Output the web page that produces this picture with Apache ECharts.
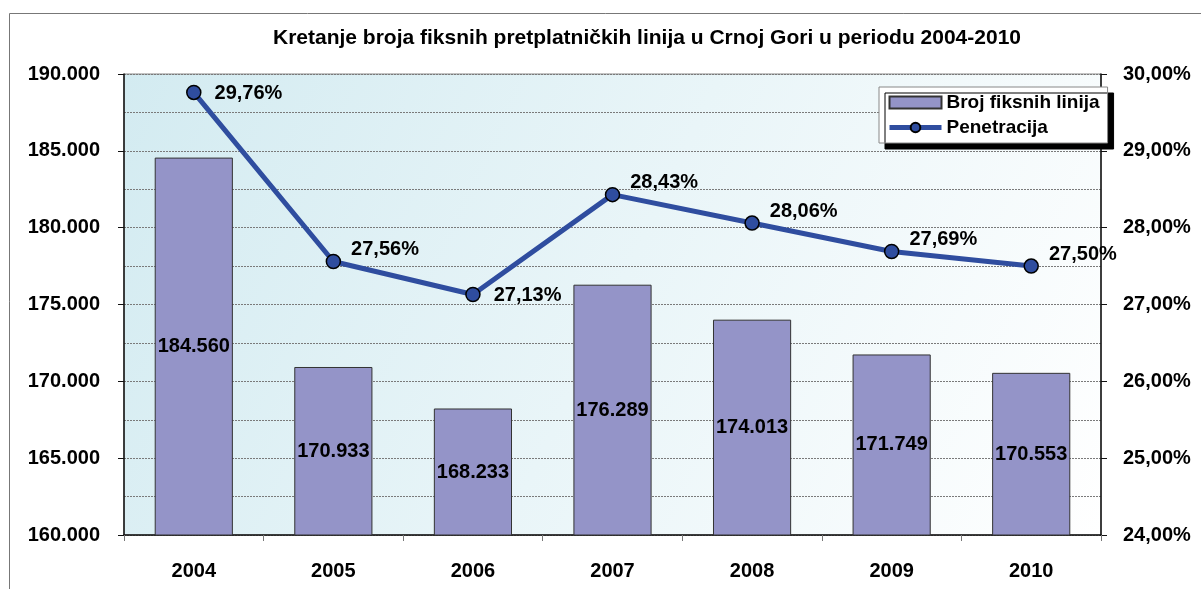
<!DOCTYPE html>
<html>
<head>
<meta charset="utf-8">
<script src="https://cdn.jsdelivr.net/npm/echarts@6/dist/echarts.min.js"></script>
<style>
    html, body {margin: 0; padding: 0; background: #fff;}
    #chartmain {width: 1201px; height: 589px;}
</style>
</head>
<body>
<div id="chartmain"></div>
<script>
// podaci sa grafikona
var years = ['2004', '2005', '2006', '2007', '2008', '2009', '2010'];
var brojLinija = [184560, 170933, 168233, 176289, 174013, 171749, 170553];
var penetracija = [29.76, 27.56, 27.13, 28.43, 28.06, 27.69, 27.50];

var fontFam = '"Liberation Sans", Arial, sans-serif';

function fmtBroj(v) {
    return String(v).replace(/\B(?=(\d{3})+(?!\d))/g, '.');
}
function fmtPct(v) {
    return v.toFixed(2).replace('.', ',') + '%';
}

var myChart = echarts.init(document.getElementById('chartmain'));
myChart.setOption({
    animation: false,
    textStyle: {fontFamily: fontFam},
    title: {
        text: 'Kretanje broja fiksnih pretplatničkih linija u Crnoj Gori u periodu 2004-2010',
        left: 273,
        top: 28,
        padding: 0,
        textStyle: {fontSize: 21, fontWeight: 'bold', color: '#000', fontFamily: fontFam}
    },
    graphic: [{
        type: 'rect',
        z: -10,
        shape: {x: 9.5, y: 13.5, width: 1300, height: 700},
        style: {fill: 'none', stroke: '#777', lineWidth: 1}
    }],
    legend: {
        orient: 'vertical',
        left: 879,
        top: 87,
        padding: [6, 8, 6, 8],
        itemGap: 6,
        itemWidth: 52,
        itemHeight: 12,
        backgroundColor: '#fff',
        borderColor: '#888',
        borderWidth: 1,
        shadowColor: '#000',
        shadowBlur: 0,
        shadowOffsetX: 6,
        shadowOffsetY: 6,
        textStyle: {fontSize: 19, fontWeight: 'bold', color: '#000', fontFamily: fontFam},
        data: [
            {name: 'Broj fiksnih linija', icon: 'rect'},
            {name: 'Penetracija', lineStyle: {width: 5}}
        ]
    },
    grid: {
        left: 124,
        right: 100,
        top: 74,
        bottom: 54,
        show: true,
        borderColor: '#888',
        borderWidth: 1,
        backgroundColor: new echarts.graphic.LinearGradient(0, 0, 1, 1, [
            {offset: 0, color: '#d3ebf1'},
            {offset: 1, color: '#ffffff'}
        ])
    },
    xAxis: {
        type: 'category',
        data: years,
        axisLine: {lineStyle: {color: '#111', width: 1.5}},
        axisTick: {show: true, length: 6, lineStyle: {color: '#777'}},
        axisLabel: {margin: 26, fontSize: 20, fontWeight: 'bold', color: '#000', fontFamily: fontFam}
    },
    yAxis: [{
        type: 'value',
        min: 160000,
        max: 190000,
        interval: 5000,
        axisLine: {show: true, lineStyle: {color: '#111', width: 1.5}},
        axisTick: {show: true, length: 6, lineStyle: {color: '#111'}},
        minorTick: {show: false, splitNumber: 2},
        axisLabel: {margin: 24, fontSize: 20, fontWeight: 'bold', color: '#000', fontFamily: fontFam,
            formatter: function (v) { return fmtBroj(v); }},
        splitLine: {show: true, lineStyle: {color: '#7a7a7a', type: [2, 1], width: 1}},
        minorSplitLine: {show: true, lineStyle: {color: '#7a7a7a', type: [2, 1], width: 1}}
    }, {
        type: 'value',
        min: 24,
        max: 30,
        interval: 1,
        position: 'right',
        axisLine: {show: true, lineStyle: {color: '#111', width: 1.5}},
        axisTick: {show: true, length: 6, lineStyle: {color: '#111'}},
        axisLabel: {margin: 22, fontSize: 20, fontWeight: 'bold', color: '#000', fontFamily: fontFam,
            formatter: function (v) { return fmtPct(v); }},
        splitLine: {show: false}
    }],
    series: [{
        name: 'Broj fiksnih linija',
        type: 'bar',
        yAxisIndex: 0,
        barWidth: '56%',
        data: brojLinija,
        itemStyle: {color: '#9494c8', borderColor: '#333', borderWidth: 1},
        label: {
            show: true,
            position: 'inside',
            fontSize: 20,
            fontWeight: 'bold',
            color: '#000',
            fontFamily: fontFam,
            formatter: function (p) { return fmtBroj(p.value); }
        }
    }, {
        name: 'Penetracija',
        type: 'line',
        yAxisIndex: 1,
        symbol: 'circle',
        symbolSize: 14,
        data: penetracija.map(function (v, i) {
            var lift = (i === 0 || i === 2) ? [3, 1] : [0, -12];
            return {value: v, label: {offset: lift}};
        }),
        lineStyle: {color: '#2f4d9f', width: 5},
        itemStyle: {color: '#2f4d9f', borderColor: '#000', borderWidth: 1.5},
        label: {
            show: true,
            position: 'right',
            distance: 10,
            fontSize: 20,
            fontWeight: 'bold',
            color: '#000',
            fontFamily: fontFam,
            formatter: function (p) { return fmtPct(p.value); }
        }
    }]
});
</script>
</body>
</html>
